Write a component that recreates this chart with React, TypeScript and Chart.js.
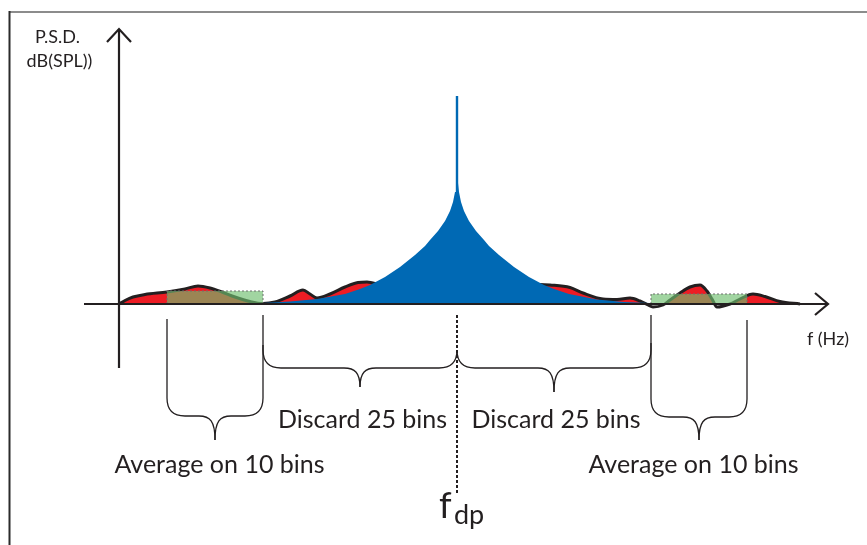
import React, { useEffect, useRef } from "react";
import { Chart, registerables } from "chart.js";

Chart.register(...registerables);

// x: frequency position (arbitrary units), y: level above the noise floor line (arbitrary units)
const noiseFreq = [119, 125, 133, 145, 167, 185, 198, 210, 222, 235, 250, 263, 275, 290, 303, 310, 317, 330, 345, 358, 367, 380, 420, 500, 530, 540, 550, 570, 583, 603, 617, 630, 640, 648, 653, 663, 670, 680, 690, 700, 707, 712, 717, 730, 740, 753, 765, 780, 800];
const noiseLevel = [0, 3.5, 7, 9.5, 12, 15, 18, 16, 12, 7, 2.5, 0.5, 2, 8, 14, 10, 6, 10, 17, 21.5, 22, 19, 10, 10, 15, 19.5, 19, 16.5, 11, 5, 4.5, 6, 3, -1, -3, -1, 4, 11, 17, 19, 13, 5, -3, 0, 5, 10, 7.5, 2.5, 0];

const peakFreq = [263, 290, 317, 345, 360, 370, 385, 400, 415, 425, 430, 438, 445, 450, 453, 455, 455.8, 455.8, 458.2, 458.2, 459, 461, 464, 469, 476, 484, 489, 499, 514, 529, 544, 554, 569, 597, 624, 650];
const peakLevel = [1, 2.5, 5, 10, 15, 19, 27, 37, 49, 58, 64, 73, 83, 93, 102, 112, 121, 208, 208, 121, 112, 102, 93, 83, 73, 64, 58, 49, 37, 27, 19, 15, 10, 4.5, 2, 1];

const fOrigin = 119;
const fdp = 457;
const avgLeftBins = [167, 263];
const avgRightBins = [651, 747];
const discardLeftBins = [263, 457];
const discardRightBins = [457, 651];
const avgLeftLevel = 13;
const avgRightLevel = 10;

const xLabel = "f (Hz)";
const yLabelLines = ["P.S.D.", "dB(SPL))"];
const discardLabel = "Discard 25 bins";
const averageLabel = "Average on 10 bins";
const fdpMain = "f";
const fdpSub = "dp";

const INK = "#231f20";
const FONT = "Lato, 'Open Sans', sans-serif";

function rectData(bins: number[], level: number) {
  const [a, b] = bins;
  return [
    { x: a, y: 0 },
    { x: a, y: level },
    { x: b, y: level },
    { x: b, y: 0 },
  ];
}

const annotPlugin = {
  id: "annot",
  afterDatasetsDraw(chart: any) {
    const ctx: CanvasRenderingContext2D = chart.ctx;
    const xs = chart.scales.x;
    const ys = chart.scales.y;
    const X = (v: number) => xs.getPixelForValue(v);
    const base = ys.getPixelForValue(0);
    const seg = (x1: number, y1: number, x2: number, y2: number) => {
      ctx.beginPath();
      ctx.moveTo(x1, y1);
      ctx.lineTo(x2, y2);
      ctx.stroke();
    };
    ctx.save();
    // frame
    ctx.strokeStyle = "#8c8c8c";
    ctx.lineWidth = 2;
    seg(9, 12, chart.width, 12);
    ctx.strokeStyle = "#2b2b2b";
    seg(9.5, 11, 9.5, chart.height);

    // axes
    ctx.strokeStyle = INK;
    ctx.lineWidth = 2.2;
    ctx.lineCap = "butt";
    const ox = X(fOrigin);
    seg(ox, base + 64, ox, base - 275);
    ctx.beginPath();
    ctx.moveTo(ox - 12, base - 262);
    ctx.lineTo(ox, base - 275);
    ctx.lineTo(ox + 12, base - 262);
    ctx.stroke();
    seg(X(84), base, X(828), base);
    ctx.beginPath();
    ctx.moveTo(X(815), base - 11);
    ctx.lineTo(X(828), base);
    ctx.lineTo(X(815), base + 11);
    ctx.stroke();

    // braces
    ctx.lineWidth = 1.3;
    const brace = (x1: number, x2: number, t1: number, t2: number, bar: number, tip: number) => {
      const r = 18;
      const xm = (x1 + x2) / 2;
      const yb = base + bar;
      const yt = base + tip;
      const half = (xa: number, ta: number, dir: number) => {
        ctx.beginPath();
        ctx.moveTo(xa, base + ta);
        ctx.lineTo(xa, yb - r);
        ctx.quadraticCurveTo(xa, yb, xa + dir * r, yb);
        ctx.lineTo(xm - dir * 16, yb);
        ctx.bezierCurveTo(xm - dir * 5, yb, xm, yb + 5, xm, yt);
        ctx.stroke();
      };
      half(x1, t1, 1);
      half(x2, t2, -1);
    };
    brace(X(avgLeftBins[0]), X(avgLeftBins[1]), 15, 11, 112, 136);
    brace(X(discardLeftBins[0]), X(discardLeftBins[1]), 41, 46, 64, 83);
    brace(X(discardRightBins[0]), X(discardRightBins[1]), 46, 39, 64, 88);
    brace(X(avgRightBins[0]), X(avgRightBins[1]), 11, 16, 113, 136);

    // dashed fdp line
    ctx.lineWidth = 2;
    ctx.setLineDash([3, 2]);
    seg(X(fdp), base + 11, X(fdp), base + 189);
    ctx.setLineDash([]);

    // texts
    ctx.fillStyle = INK;
    ctx.textAlign = "center";
    ctx.textBaseline = "alphabetic";
    ctx.font = `18px ${FONT}`;
    ctx.fillText(yLabelLines[0], 57.5, 43);
    ctx.fillText(yLabelLines[1], 59.5, 67);
    ctx.fillText(xLabel, X(828), base + 41);
    ctx.font = `25px ${FONT}`;
    ctx.fillText(discardLabel, X(362.5), base + 124);
    ctx.fillText(discardLabel, X(556), base + 124);
    ctx.fillText(averageLabel, X(219.5), base + 169);
    ctx.fillText(averageLabel, X(693.5), base + 169);
    ctx.textAlign = "left";
    ctx.font = `36px ${FONT}`;
    ctx.fillText(fdpMain, X(fdp) - 18, base + 214);
    ctx.font = `27px ${FONT}`;
    ctx.fillText(fdpSub, X(fdp) - 3, base + 220);
    ctx.restore();
  },
};

export default function App() {
  const ref = useRef<HTMLCanvasElement>(null);
  useEffect(() => {
    if (!ref.current) return;
    const noise = noiseFreq.map((f, i) => ({ x: f, y: noiseLevel[i] }));
    const peak = peakFreq.map((f, i) => ({ x: f, y: peakLevel[i] }));
    const boxStyle = {
      backgroundColor: "rgba(110,190,110,0.65)",
      borderColor: "#6e6e6e",
      borderWidth: 1,
      borderDash: [2, 2],
      fill: "origin",
      tension: 0,
      pointRadius: 0,
    };
    const chart = new Chart(ref.current, {
      type: "line",
      data: {
        datasets: [
          {
            label: "noise",
            data: noise,
            borderColor: INK,
            borderWidth: 3,
            backgroundColor: "#ed1c24",
            fill: { target: "origin", above: "#ed1c24", below: "rgba(0,0,0,0)" },
            cubicInterpolationMode: "monotone",
            pointRadius: 0,
            order: 4,
          },
          {
            label: "peak",
            data: peak,
            borderWidth: 0,
            borderColor: "#0069b4",
            backgroundColor: "#0069b4",
            fill: "origin",
            tension: 0,
            pointRadius: 0,
            order: 3,
          },
          { label: "avgL", data: rectData(avgLeftBins, avgLeftLevel), ...boxStyle, order: 2 },
          { label: "avgR", data: rectData(avgRightBins, avgRightLevel), ...boxStyle, order: 1 },
        ],
      },
      options: {
        responsive: false,
        maintainAspectRatio: false,
        animation: false,
        layout: { padding: 0 },
        parsing: false,
        normalized: true,
        scales: {
          x: { type: "linear", min: 0, max: 867, display: false },
          y: { type: "linear", min: -241, max: 304, display: false },
        },
        plugins: { legend: { display: false }, tooltip: { enabled: false } },
        elements: { point: { radius: 0 } },
      } as any,
      plugins: [annotPlugin],
    } as any);
    return () => chart.destroy();
  }, []);
  return (
    <div style={{ position: "absolute", left: 0, top: 0, width: 867, height: 545, background: "#fff" }}>
      <canvas ref={ref} width={867} height={545} style={{ display: "block" }} />
    </div>
  );
}
